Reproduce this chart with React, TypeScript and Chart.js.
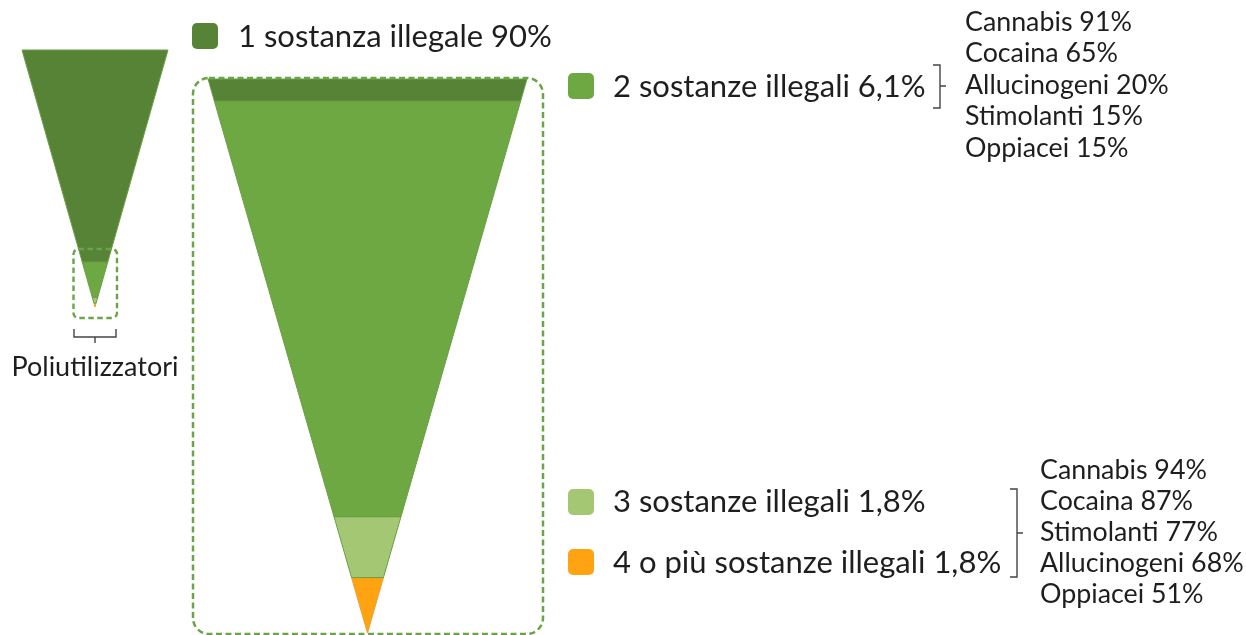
import { useEffect, useRef } from "react";
import { Chart, registerables } from "chart.js";

Chart.register(...registerables);

// ---------- data ----------
const categories = [
  "1 sostanza illegale",
  "2 sostanze illegali",
  "3 sostanze illegali",
  "4 o più sostanze illegali",
];
const shareValues = [90, 6.1, 1.8, 1.8];
const layerColors = ["#578337", "#6EA842", "#A3C772", "#FFA312"];
// depth (0 = top edge, 1 = apex) where each layer ends
const bigFunnelEnds = [0.04, 0.79, 0.9, 1];
const smallFunnelEnds = [0.825, 0.962, 0.985, 1];
const subs2Names = ["Cannabis", "Cocaina", "Allucinogeni", "Stimolanti", "Oppiacei"];
const subs2Values = [91, 65, 20, 15, 15];
const subs3Names = ["Cannabis", "Cocaina", "Stimolanti", "Allucinogeni", "Oppiacei"];
const subs3Values = [94, 87, 77, 68, 51];
const groupLabel = "Poliutilizzatori";

// ---------- layout (pixel space of the 1246x635 plot) ----------
const W = 1246;
const H = 635;
const smallFunnel = { cx: 95, top: 50, bottom: 307, half: 73 };
const bigFunnel = { cx: 367.5, top: 79, bottom: 633, half: 159.5 };
const FONT = "Lato, 'Open Sans', sans-serif";

const fmt = (v: number) => String(v).replace(".", ",") + "%";

function layerPolygon(f: { cx: number; top: number; bottom: number; half: number }, d0: number, d1: number) {
  const h = f.bottom - f.top;
  const y0 = f.top + d0 * h;
  const y1 = f.top + d1 * h;
  const w0 = f.half * (1 - d0);
  const w1 = f.half * (1 - d1);
  return [
    { x: f.cx - w0, y: y0 },
    { x: f.cx + w0, y: y0 },
    { x: f.cx + w1, y: y1 },
    { x: f.cx - w1, y: y1 },
    { x: f.cx - w0, y: y0 },
  ];
}

function funnelDatasets(f: any, ends: number[], name: string) {
  return ends.map((end, i) => {
    const start = i === 0 ? 0 : ends[i - 1];
    return {
      type: "line" as const,
      label: `${name} ${categories[i]}`,
      data: layerPolygon(f, start, end),
      backgroundColor: layerColors[i],
      borderColor: i === 3 ? "#E8A030" : "#6A9F45",
      borderWidth: 1,
      pointRadius: 0,
      fill: "shape",
      tension: 0,
      order: 1,
    };
  });
}

export default function App() {
  const ref = useRef<HTMLCanvasElement | null>(null);

  useEffect(() => {
    if (!ref.current) return;

    const decor = {
      id: "decor",
      afterDatasetsDraw(chart: any) {
        const { ctx } = chart;
        const xs = chart.scales.x;
        const ys = chart.scales.y;
        const px = (v: number) => xs.getPixelForValue(v);
        const py = (v: number) => ys.getPixelForValue(v);

        // dashed boxes
        ctx.save();
        ctx.strokeStyle = "#6AA446";
        ctx.lineWidth = 2.5;
        ctx.setLineDash([6, 3.5]);
        ctx.beginPath();
        ctx.roundRect(px(193), py(78), px(543) - px(193), py(634) - py(78), 16);
        ctx.stroke();
        ctx.lineWidth = 2.4;
        ctx.setLineDash([5.5, 3.5]);
        ctx.beginPath();
        ctx.roundRect(px(73.5), py(249), px(117) - px(73.5), py(318) - py(249), 5);
        ctx.stroke();
        ctx.restore();
      },
      afterDraw(chart: any) {
        const { ctx } = chart;
        const xs = chart.scales.x;
        const ys = chart.scales.y;
        const px = (v: number) => xs.getPixelForValue(v);
        const py = (v: number) => ys.getPixelForValue(v);
        ctx.save();

        // brackets
        ctx.strokeStyle = "#444";
        ctx.lineWidth = 1.4;
        ctx.setLineDash([]);
        // under small funnel
        ctx.beginPath();
        ctx.moveTo(px(74), py(329));
        ctx.lineTo(px(74), py(337));
        ctx.lineTo(px(116), py(337));
        ctx.lineTo(px(116), py(329));
        ctx.moveTo(px(95), py(337));
        ctx.lineTo(px(95), py(343));
        ctx.stroke();
        // right bracket for group 2
        ctx.beginPath();
        ctx.moveTo(px(933), py(65));
        ctx.lineTo(px(940), py(65));
        ctx.lineTo(px(940), py(108));
        ctx.lineTo(px(933), py(108));
        ctx.moveTo(px(940), py(86));
        ctx.lineTo(px(946), py(86));
        ctx.stroke();
        // right bracket for groups 3-4
        ctx.beginPath();
        ctx.moveTo(px(1010), py(489));
        ctx.lineTo(px(1017), py(489));
        ctx.lineTo(px(1017), py(577));
        ctx.lineTo(px(1010), py(577));
        ctx.moveTo(px(1017), py(533));
        ctx.lineTo(px(1023), py(533));
        ctx.stroke();

        // legend markers
        const markers = [
          [192, 23],
          [568, 73],
          [568, 489],
          [568, 549],
        ];
        markers.forEach(([x, y], i) => {
          ctx.fillStyle = layerColors[i];
          ctx.beginPath();
          ctx.roundRect(px(x), py(y), 26, 26, 5);
          ctx.fill();
        });

        // legend texts
        ctx.fillStyle = "#1E1E1E";
        ctx.textBaseline = "middle";
        ctx.textAlign = "left";
        ctx.font = `31px ${FONT}`;
        const labelPos = [
          [238, 37],
          [613, 87],
          [613, 502],
          [613, 563],
        ];
        labelPos.forEach(([x, y], i) => {
          ctx.fillText(`${categories[i]} ${fmt(shareValues[i])}`, px(x), py(y));
        });

        ctx.font = `26.8px ${FONT}`;
        subs2Names.forEach((n, i) => {
          ctx.fillText(`${n} ${fmt(subs2Values[i])}`, px(965), py(22 + i * 31.5));
        });
        subs3Names.forEach((n, i) => {
          ctx.fillText(`${n} ${fmt(subs3Values[i])}`, px(1040), py(470 + i * 31));
        });

        ctx.font = `27px ${FONT}`;
        ctx.textAlign = "center";
        ctx.fillText(groupLabel, px(95), py(367));
        ctx.restore();
      },
    };

    const chart = new Chart(ref.current, {
      type: "scatter",
      data: {
        datasets: [
          ...funnelDatasets(smallFunnel, smallFunnelEnds, "small"),
          ...funnelDatasets(bigFunnel, bigFunnelEnds, "big"),
        ] as any,
      },
      options: {
        animation: false,
        responsive: false,
        maintainAspectRatio: false,
        devicePixelRatio: 1,
        layout: { padding: 0 },
        showLine: true,
        scales: {
          x: { type: "linear", min: 0, max: W, display: false },
          y: { type: "linear", min: 0, max: H, reverse: true, display: false },
        },
        plugins: {
          legend: { display: false },
          tooltip: { enabled: false },
        },
      } as any,
      plugins: [decor],
    });

    let alive = true;
    const fonts = (document as any).fonts;
    if (fonts && fonts.load) {
      Promise.all([fonts.load(`31px Lato`), fonts.load(`27px Lato`)]).then(() => {
        if (alive) chart.draw();
      });
    }
    return () => {
      alive = false;
      chart.destroy();
    };
  }, []);

  return (
    <div style={{ position: "absolute", left: 0, top: 0, width: W, height: H, background: "#fff" }}>
      <canvas ref={ref} width={W} height={H} style={{ display: "block" }} />
    </div>
  );
}
